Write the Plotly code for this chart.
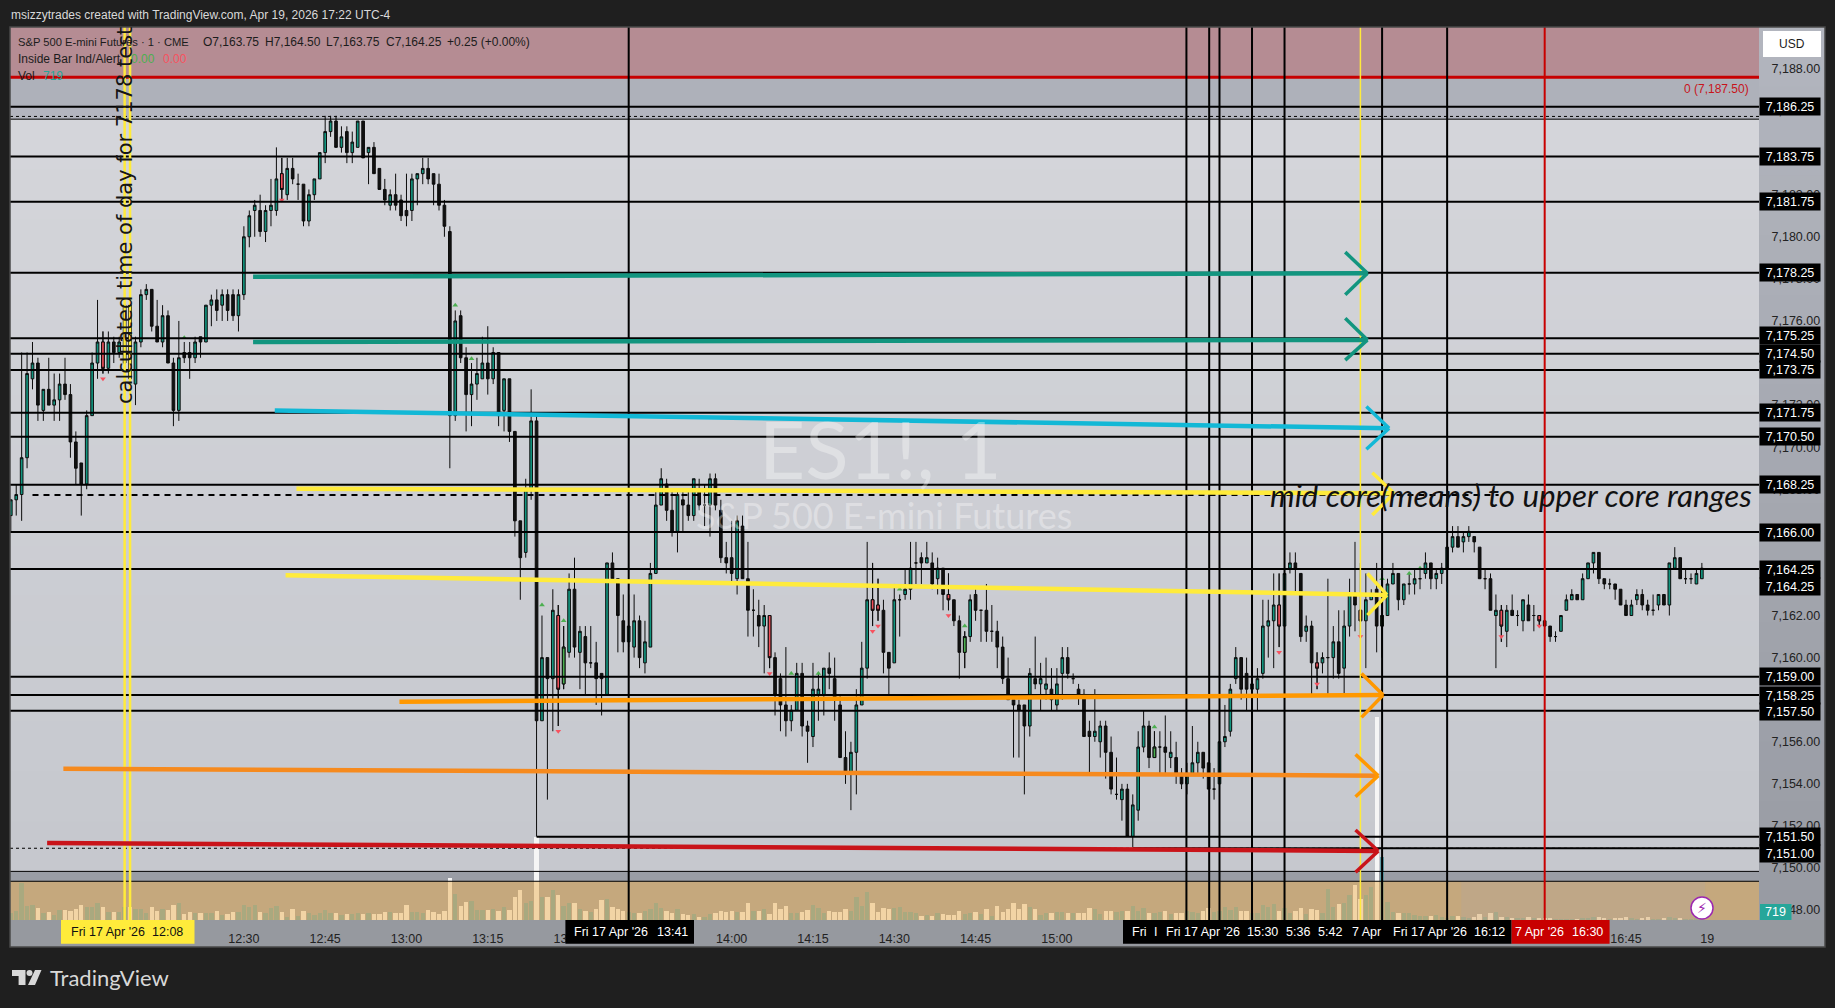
import plotly.graph_objects as go

# ---------- data ----------
BASE_PRICE = 7100
FIRST_MINUTE = 707          # minutes after midnight of the first candle (11:47)
OPEN = [66.75,67.5,67.75,69.5,73.25,74,71.75,72.75,72,72.25,
73,72.5,70.25,69.25,68.25,71.5,74,75,73.75,75,
74.5,74,76.75,73,75,77.25,77.5,75.75,75,76.25,
74,71.75,74.5,74.5,74.25,75.25,75,76.75,77,76.75,
77.25,77.25,76.25,77.25,80,81.25,81.25,80.25,81.25,81.25,
83,82,83.25,82.5,82.5,80.75,82,82.75,84,85,
85.5,84.25,85,84,84.25,85.5,84,84.25,83.25,82.25,
81.5,82,81.75,81.25,81.25,82.75,83,83.25,83,82.5,
81.5,80.25,71.5,76.25,74.25,72.5,73,73.25,74,73.25,
74.5,71.75,73.25,70.75,66.5,65,68,71.25,57,60,
59,62,58.75,60.25,63.25,60.25,61,59.75,59.75,59.25,
58.25,64.5,63.75,61.75,60.75,60.5,61.75,59.75,60.5,64,
67.25,68.25,67,66,67.5,67.25,66.75,68,67.25,67.25,
68.5,67,64.75,64.75,63.75,66.25,63.75,62.25,62,61.5,
62,60,59,57.75,57,57.5,59.25,56.75,56.25,58.25,
58.25,59.5,59,57.75,55.25,54.5,55.5,57.75,59.5,62.75,
62.5,62.25,60.25,59.75,62.75,63,63.25,64.5,64.75,64.5,
64.5,63.75,64.25,63,62.75,61.75,60.25,61,63,62.25,
62.25,61.25,61.25,60.5,59,58,57.75,57.75,56.75,59,
58.75,58.5,58.5,57.75,59.25,60,59,58.5,58.25,56.5,
56.25,56,56.75,55.5,53.5,53.25,53.75,51.5,52.75,55.75,
56.75,55.25,55.75,55.75,55.25,55.25,54.5,54,54.5,55,
55.5,55,53.75,54,56,56.5,59,60,59.25,58.5,
58.5,59.25,61.5,61.75,62.5,61.5,64.25,64.5,64,61.25,
61.5,59.75,59.75,60,60,60.75,59.5,61.5,63,62.25,
61.75,62.75,63.25,61.5,62,63.5,64,62.75,63.5,63.5,
63.75,64,64.5,63.75,64,64.25,65.25,65.75,65.5,65.75,
65.75,65.25,63.75,63.75,62,62.25,61.25,62.25,62,61.75,
62.5,62,62,61.75,61.5,61,61.25,62.25,62.75,63,
62.75,63.75,64.5,65,63.75,63.5,63.5,63.25,62.5,62,
62.75,63,62.5,62.25,62.5,63,62.5,64.25,64.75,63.75,
63.75,63.5,63.75]
HIGH = [67.5,68.25,74.5,74.5,75,74.25,72.75,74.25,73.5,73.5,
74.25,73,70.75,69.25,71.75,74.5,77,75.5,75.5,75.25,
75.25,76.75,76.75,75.25,77.5,77.75,77.5,77,76.75,76.5,
74.25,76,75,75,75.25,75.25,76.75,77.25,77.5,77.5,
77.5,77.5,77.5,80.5,81.25,81.75,82,81.5,82.75,84.25,
83.75,83.75,83.75,83,82.5,82.25,82.75,84,85.75,85.75,
85.75,85.25,85.25,85,85.5,85.5,84.25,84.5,83.25,82.75,
82.25,83,82,83,83,83,83.75,83.75,83,83,
81.75,80.5,76.5,76.5,74.75,74,74.25,75.25,75.75,74.75,
74.5,73.25,73.25,70.75,66.5,68.5,72.75,71.5,62,60,
63.25,62.5,61.5,64,64.75,61.5,61.5,61.5,60.75,59.25,
64.5,65,63.75,63,63,63,62,61.75,64.5,68,
69,68.5,68,68,68,68,68.5,68.5,68.25,68.75,
68.75,67.5,65.5,66.5,66.75,66.75,65.5,63.25,62.75,62.5,
62,60.25,59.25,60.5,57.75,59.75,59.75,57,59.75,59.25,
59.5,60.25,60,58.25,56.5,56,58.5,60.75,65.5,64.5,
63.75,62.75,60.25,63.5,63,64.25,65.5,65.5,65,65.5,
65,64.75,64.25,64,62.75,62,61.25,63,63.25,62.25,
63.5,62.5,61.75,61,60,58,58,57.75,59.5,61,
59.75,60,59.5,59.5,60.5,60.5,59.25,58.75,58.5,57,
58.5,57,57,56.25,55.25,54,54,53.5,56.5,57.5,
57,56.5,56.5,57.25,56.5,56,54.75,55,56.75,56,
55.5,55,54.75,57.5,57.75,58.75,60.5,60,60,59,
59.5,62.75,62.75,64,64,64.5,65,65,64,62,
61.75,60.25,60.25,63.75,61.5,62.25,62.25,63.75,65.5,64.5,
64,63.25,64.5,64,63.75,64.5,64,63.5,64,64.25,
64.25,65,64.5,64.25,64.5,65.25,66.25,66.25,66,66.25,
65.75,65.25,64.25,64,63,62.5,62.5,63,62.25,62.75,
63,62.5,62,61.75,61.5,61.25,62,63,63.25,63,
64,64.5,65,65,63.75,63.75,63.5,63.25,62.75,62.75,
63.25,63.25,62.75,63,63,63,64.5,65.25,64.75,64.25,
64,64.25,64.5]
LOW = [66,66.75,66.5,69,72.75,71.25,71.25,72,71.25,71.25,
72.25,69.5,68.25,66.75,68,71.5,73.25,73.5,73.5,74,
74.25,73.75,72.25,72,74.75,77,75.5,75,74.75,74,
71,71.25,74,73.25,74,74.25,75,75.75,76,76,
76,76,75.5,77,79.5,80,80,79.75,80.5,81,
81.75,81.75,82.5,81.75,80.5,80.5,81.75,82.75,83.5,84.75,
84.25,84,83.5,83.5,84.25,83.75,82.5,83,82.25,81.5,
81.25,81.25,80.75,80.5,80.75,81.5,82.5,82.5,81.5,81.25,
80,69,71.25,74,70.75,71,72.25,73.25,72.5,73,
71,70.75,70.25,65.75,62.75,64.75,67.5,51.5,57,53.25,
56.5,56.75,58.5,60,60,58.5,58.25,59.5,57.75,57.25,
58.25,63.75,60.25,60.25,60.5,60,59.5,59.25,60.5,64,
67.25,66.5,65.75,65,66,66.5,66.5,67,66.25,65.75,
67,64.5,64,63.5,63,63.75,61,61,60.5,59.25,
59.5,57.25,56.5,56.25,56.5,57.5,56.25,55,55.75,57,
57.25,58.5,57,55.25,54,52.75,53.5,57.75,59,61.5,
61.75,59.25,58.25,59.75,61,62.75,62.75,63.5,63.5,64.5,
63.25,63,62.25,62.25,61.5,59,59.5,60.75,61.75,60.75,
60.75,60.75,59.5,58.75,58,55.25,55.25,53.5,56.25,58.5,
57.5,58,57.5,57.5,58,59,58.75,57.75,56.25,54.5,
56,55.25,54.25,53.5,53.25,52.25,51.5,51,52.25,55.5,
54.75,55.25,54.5,54.5,54.75,54,53.75,53.5,54.5,54.5,
54.25,53.75,53.25,54,55.75,56.25,58.75,58,57.5,57.5,
57.5,59,60,59.5,60.5,61.25,64,63,60.75,60.75,
58.25,58.5,59.25,58.25,59,59,58.25,61,61.25,61,
59.5,62.75,60.25,60,62,63.5,62.25,62.5,63,63,
63.25,63.75,63.25,63.25,63.5,64.25,65,65.25,65,65.5,
65,63.75,63.25,62.25,59.5,60.75,60.5,62,61.5,61.25,
61.75,61.25,61.5,61.5,60.75,60.75,61.25,62.25,62.75,62.75,
62.75,63.75,64,63.5,63.25,63.25,62.75,62.5,62,62,
62.5,62.25,62,62,62.25,62.5,62,64.25,63.75,63.5,
63.5,63.5,63.75]
CLOSE = [67.5,67.75,69.5,73.5,74,72,72.75,72,72.25,73,
72.5,70.25,69,68.25,71.5,74,75,73.75,75,74.5,
75,76.75,73.25,75,77.25,77.5,75.75,75,76.25,74,
71.75,74.25,74.25,74.25,75,75,76.75,77,76.5,77.25,
76.5,76.25,77.25,80,81,81.5,80.25,81.25,81.5,82.75,
82.25,83.25,82.75,82.5,80.75,82,82.75,84,85,85.5,
84.25,84.75,84,84.5,85.5,83.75,84.25,83,82.25,81.75,
82,81.5,81,81,82.75,83,83.25,82.75,82.5,81.5,
80.5,71.5,76,74.25,72.5,73,73.5,74,73.25,74.5,
71.5,73.25,70.75,66.5,64.75,68,71.25,57,60,59,
62.25,58.5,60.5,63.25,60.5,61.25,59.75,59.75,59,59,
64.5,63.75,62,60.75,61.5,61.75,60,60.75,64,67.25,
68.5,67,66,67.75,67.25,66.75,68.5,67.25,67.25,68.5,
67.25,64.75,64.5,64,66.5,63.75,62.25,62.25,61.5,62,
60,58.25,57.75,57,57.5,59.25,56.75,56.5,58.5,58.5,
59.5,59.25,58,55.25,54.5,55.5,57.75,59.5,62.75,62.25,
62.25,60.25,59.5,62.75,62.75,63.25,64.25,64.5,64.5,64.75,
63.5,64.25,63,62.75,61.75,60.25,61,62.75,62.25,62.25,
61.25,61.25,60.5,59,58,57.75,57.5,56.75,59.25,58.75,
59,58.75,58,58.75,60,59.25,59,58.25,56.25,56.25,
56.5,56.75,55.5,53.75,53.5,53.75,51.5,53,55.75,56.75,
55.25,55.75,55.75,55.5,55.5,54.5,54,54.5,55,55.5,
54.75,53.75,53.75,56,56.25,58.5,60,58.5,58.5,58.75,
59,61.5,61.75,62.5,61.5,64,64.5,64.25,61,61.5,
59.75,59.5,60,60,60.75,59.25,61.5,63,62.5,61.75,
62.75,63,61.5,62,63.5,64,62.75,63.5,63.5,63.75,
63.75,64.5,63.75,64,64.25,65.25,65.75,65.25,65.75,66,
65.5,63.75,63.75,62.25,62.25,61.5,62.25,62,62,62.75,
61.75,62,61.75,61.5,61,61,62,62.75,63,62.75,
63.75,64.5,65,63.75,63.5,63.5,63.25,62.5,62,62.5,
63,62.5,62.25,62.25,63,62.5,64.5,64.75,63.75,63.75,
63.75,64,64.25]
VOLUME = [22,27,110,43,44,37,22,25,15,30,
30,27,33,45,38,38,50,38,25,25,
25,38,40,33,33,22,38,28,33,30,
45,50,18,23,20,20,20,22,27,15,
18,23,23,45,40,45,23,20,35,43,
23,10,33,12,27,20,15,20,30,20,
20,15,17,18,20,17,20,18,18,23,
23,20,22,45,23,23,20,30,23,18,
27,125,78,42,55,57,30,30,30,33,
27,38,30,70,90,50,57,250,70,70,
90,75,42,52,50,33,27,23,33,60,
62,38,33,27,25,20,20,27,33,50,
35,27,22,33,17,15,18,10,10,18,
20,27,25,27,25,23,50,28,27,33,
18,50,33,43,22,20,25,30,45,35,
20,27,25,25,33,28,68,42,85,50,
25,35,33,35,38,23,23,20,13,15,
13,20,17,15,15,27,18,20,23,17,
33,12,42,25,33,50,33,47,38,33,
15,20,20,23,23,20,20,20,20,35,
33,17,27,28,25,27,27,42,28,35,
20,20,25,27,18,20,20,27,25,20,
27,35,23,27,40,30,38,27,27,20,
20,45,38,48,27,35,20,27,35,18,
32,30,20,92,40,48,50,75,105,62,
75,98,610,190,55,25,20,20,22,15,
12,13,12,15,10,5,12,13,8,5,
8,17,8,20,25,8,10,5,5,5,
8,5,5,5,5,4,4,4,4,4,
5,5,8,8,5,4,5,6,10,5,
4,6,8,4,4,5,8,5,5,3,
4,5,5]
assert len(OPEN) == len(HIGH) == len(LOW) == len(CLOSE) == len(VOLUME) == 313, (len(OPEN), len(HIGH), len(LOW), len(CLOSE), len(VOLUME))

RED_BARS = [724,757,808,847,866,867,880,941,948,956,982,989]
GREEN_BARS = [809,883,918,960]
ARROW_DOWN_MIN = [724,757,808,847,866,867,880,941,948,956,982,989]
ARROW_DOWN_PRICE = [7173.25,7181.75,7156.5,7159.25,7161.25,7161.5,7162,7160.25,7158.75,7161,7161,7161.5]
ARROW_UP_MIN = [739,789,792,796,805,809,851,856,871,883,918,960,965,967]
ARROW_UP_PRICE = [7175.2,7176.75,7174.2,7175,7162.5,7161.75,7159.25,7159.25,7163.25,7161.5,7156.7,7163.75,7164,7164.25]

PRICE_TICKS = [7188,7186,7184,7182,7180,7178,7176,7174,7172,7170,7168,7166,7164,7162,7160,7158,7156,7154,7152,7150,7148]
TIME_TICKS = [750,765,780,795,810,840,855,870,885,900,1005,1020]
TIME_LABELS = ["12:30","12:45","13:00","13:15","13:30","14:00","14:15","14:30","14:45","15:00","16:45","19"]

LEVELS = [7186.18,7183.81,7181.67,7178.29,7175.18,7174.44,7173.67,7171.64,7170.5,7168.22,7165.97,7164.21,7159.09,7158.22,7157.48]
V_LINES = [821,923.9,928.1,930,936,942,960,972]
YELLOW_V = [728,729]
YELLOW_THIN_V = 956
RED_V = 990

TAG_TEXT = ["7,186.25","7,183.75","7,181.75","7,178.25","7,175.25","7,174.50","7,173.75","7,171.75","7,170.50","7,168.25","7,166.00","7,164.25","7,164.25","7,159.00","7,158.25","7,157.50","7,151.50","7,151.00"]
TAG_PRICE = [7186.18,7183.81,7181.67,7178.29,7175.18,7174.44,7173.67,7171.64,7170.5,7168.22,7165.97,7164.21,7164.21,7159.09,7158.22,7157.48,7151.49,7150.94]
TAG_SHIFT = [0,0,0,0,3,0,0,0,0,0,0,0,-17,0,0,-1,0,-5]

TREND_COLOR = ["#12957f","#12957f","#12b8d6","#ffeb3b","#ffeb3b","#ff9800","#f68a1e","#c9141a"]
HEAD_COLOR = ["#12957f","#12957f","#12b8d6","#ffeb3b","#ffeb3b","#ff9800","#ff9800","#c9141a"]
TREND_START_MIN = [751.7,751.7,755.7,759.7,757.7,778.7,716.7,713.7]
TREND_START_PRICE = [7178.1,7175.0,7171.74,7168.03,7163.91,7157.9,7154.72,7151.19]
TREND_END_MIN = [957.3,957.3,961.3,962.2,960.9,960.2,959.3,959.3]
TREND_END_PRICE = [7178.27,7175.1,7170.9,7167.81,7162.98,7158.22,7154.39,7150.81]
HEAD_BACK_MIN = [953.2,953.2,957.1,958.2,957.3,956.2,955.1,955.1]
HEAD_HIGH_PRICE = [7179.27,7176.13,7171.93,7168.79,7164,7159.25,7155.4,7151.81]
HEAD_LOW_PRICE = [7177.24,7174.14,7169.9,7166.78,7162.02,7157.16,7153.39,7149.8]

# ---------- page geometry ----------
W, H = 1835, 1008
PL, PR, PT, PB = 10, 1759, 27, 920
X_RANGE = [706.85, 1029.54]
Y_RANGE = [7147.53, 7189.97]
FONT = "Liberation Sans"
px = lambda x: x / W
py = lambda y: 1 - y / H

minutes = [FIRST_MINUTE + i for i in range(len(OPEN))]
o = [BASE_PRICE + v for v in OPEN]
h = [BASE_PRICE + v for v in HIGH]
l = [BASE_PRICE + v for v in LOW]
c = [BASE_PRICE + v for v in CLOSE]

fig = go.Figure()

# volume first, drawn through its own overlaid axis
fig.add_trace(go.Bar(x=minutes, y=VOLUME, yaxis="y2", width=0.8, hoverinfo="skip", showlegend=False,
                     marker=dict(line=dict(width=0),
                                 color=["#629fa9" if cc >= oo else "#f5f5f5" for oo, cc in zip(o, c)])))

def candles(idx, up, down):
    fig.add_trace(go.Candlestick(
        x=[minutes[i] for i in idx], open=[o[i] for i in idx], high=[h[i] for i in idx],
        low=[l[i] for i in idx], close=[c[i] for i in idx], hoverinfo="skip", showlegend=False,
        increasing=dict(fillcolor=up, line=dict(color="#0c0c0c", width=1)),
        decreasing=dict(fillcolor=down, line=dict(color="#0c0c0c", width=1))))

candles(range(len(o)), "#12957f", "#111111")
candles([m - FIRST_MINUTE for m in RED_BARS], "#f0505a", "#f0505a")
candles([m - FIRST_MINUTE for m in GREEN_BARS], "#4caf50", "#4caf50")

fig.add_trace(go.Scatter(x=ARROW_DOWN_MIN, y=ARROW_DOWN_PRICE, mode="markers", hoverinfo="skip", showlegend=False,
                         marker=dict(symbol="triangle-down", size=5, color="#f7525f")))
fig.add_trace(go.Scatter(x=ARROW_UP_MIN, y=ARROW_UP_PRICE, mode="markers", hoverinfo="skip", showlegend=False,
                         marker=dict(symbol="triangle-up", size=5, color="#4caf50")))

shapes = []
def rect_px(x0, y0, x1, y1, color, layer="below", line=None):
    shapes.append(dict(type="rect", xref="paper", yref="paper", x0=px(x0), x1=px(x1), y0=py(y0), y1=py(y1),
                       fillcolor=color, line=line or dict(width=0), layer=layer))

def mix(a, b, t):
    return "rgb(%d,%d,%d)" % tuple(round(a[i] + (b[i] - a[i]) * t) for i in range(3))

# right price scale and time scale backgrounds
N = 30
for i in range(N):
    y0 = PT + (PB - PT) * i / N
    y1 = PT + (PB - PT) * (i + 1) / N + 1
    rect_px(PR, y0, 1825, y1, mix((178, 181, 190), (152, 155, 163), i / (N - 1)))
rect_px(PL, PB, 1825, 947, "#96999f")

# pane gradient and zones
ZONE_TOP = 7185.59
ZONE_BOTTOM = 7149.84
TAN_TOP = 7149.37
for i in range(N):
    p1 = ZONE_TOP + (ZONE_BOTTOM - ZONE_TOP) * i / N
    p0 = ZONE_TOP + (ZONE_BOTTOM - ZONE_TOP) * (i + 1) / N - 0.05
    shapes.append(dict(type="rect", xref="x", yref="y", x0=X_RANGE[0], x1=X_RANGE[1], y0=p0, y1=p1,
                       fillcolor=mix((212, 213, 218), (198, 200, 206), i / (N - 1)), line=dict(width=0), layer="below"))
def band(p0, p1, color, layer="below"):
    shapes.append(dict(type="rect", xref="x", yref="y", x0=X_RANGE[0], x1=X_RANGE[1], y0=p0, y1=p1,
                       fillcolor=color, line=dict(width=0), layer=layer))
band(7187.58, Y_RANGE[1], "#b58c93")
band(7186.18, 7187.58, "#aeb1ba")
band(ZONE_TOP, 7186.18, "#b3b5bf")
band(Y_RANGE[0], ZONE_BOTTOM, "#9a9da5")
shapes.append(dict(type="rect", xref="x", yref="paper", x0=974.6, x1=1019.6, y0=py(PB), y1=py(PT),
                   fillcolor="rgba(150,170,225,0.2)", line=dict(width=0), layer="below"))
# translucent tan over the volume bars
band(Y_RANGE[0], TAN_TOP, "rgba(240,179,85,0.5)", "above")
shapes.append(dict(type="rect", xref="x", yref="y", x0=974.6, x1=1019.6, y0=Y_RANGE[0], y1=TAN_TOP,
                   fillcolor="rgba(150,170,225,0.10)", line=dict(width=0), layer="above"))

def hline(p, x0=None, width=2, dash="solid", color="#000000"):
    shapes.append(dict(type="line", xref="x", yref="y", x0=X_RANGE[0] if x0 is None else x0, x1=X_RANGE[1],
                       y0=p, y1=p, line=dict(color=color, width=width, dash=dash), layer="above"))
for p in LEVELS:
    hline(p)
hline(7151.49, x0=804)
hline(7150.94, width=1, dash="dot")
hline(7150.94, x0=914)
hline(7185.72, width=1, dash="dot")
hline(ZONE_TOP, width=1)
hline(ZONE_BOTTOM, width=1)
hline(TAN_TOP, width=1)
hline(7187.58, width=3, color="#c80000")
shapes.append(dict(type="line", xref="x", yref="y", x0=711, x1=981.5, y0=7167.73, y1=7167.73,
                   line=dict(color="#000000", width=2, dash="6px,5px"), layer="above"))

def vline(m, color="#000000", width=2):
    shapes.append(dict(type="line", xref="x", yref="paper", x0=m, x1=m, y0=py(PB), y1=py(PT),
                       line=dict(color=color, width=width), layer="above"))
for m in V_LINES:
    vline(m)
for m in YELLOW_V:
    vline(m, "#ffeb3b", 2.5)
vline(YELLOW_THIN_V, "#ffeb3b", 1.5)
vline(RED_V, "#c80000", 2)

for i in range(len(TREND_COLOR)):
    shapes.append(dict(type="line", xref="x", yref="y", x0=TREND_START_MIN[i], x1=TREND_END_MIN[i],
                       y0=TREND_START_PRICE[i], y1=TREND_END_PRICE[i],
                       line=dict(color=TREND_COLOR[i], width=4.5), layer="above"))
    for hp in (HEAD_HIGH_PRICE[i], HEAD_LOW_PRICE[i]):
        shapes.append(dict(type="line", xref="x", yref="y", x0=HEAD_BACK_MIN[i], x1=TREND_END_MIN[i],
                           y0=hp, y1=TREND_END_PRICE[i],
                           line=dict(color=HEAD_COLOR[i], width=3.5), layer="above"))

# time-scale highlight boxes
rect_px(61, PB, 194.5, 943.7, "#ffeb3b", "above")
rect_px(565.4, PB, 694, 943.7, "#000000", "above")
rect_px(1123, PB, 1511.6, 943.7, "#000000", "above")
rect_px(1511.6, PB, 1609.6, 943.7, "#c80000", "above")
# USD button, last-volume tag
shapes.append(dict(type="path", xref="paper", yref="paper", layer="above", fillcolor="#ffffff", line=dict(width=0),
                   path="M %f %f L %f %f L %f %f L %f %f Z" % (px(1763), py(31), px(1821), py(31), px(1821), py(57), px(1763), py(57))))
rect_px(1760, 904, 1791.5, PB, "#26a69a", "above")
# lightning badge
shapes.append(dict(type="circle", xref="paper", yref="paper", x0=px(1691), x1=px(1713), y0=py(897), y1=py(919),
                   fillcolor="#ffffff", line=dict(color="#9c27b0", width=1.5), layer="above"))
# frame
shapes.append(dict(type="rect", xref="paper", yref="paper", x0=px(PL), x1=px(1825), y0=py(947), y1=py(PT),
                   line=dict(color="#4a4a4a", width=1.5), layer="above"))
# TradingView logo
LOGO = "#d8d8d8"
shapes.append(dict(type="path", xref="paper", yref="paper", fillcolor=LOGO, line=dict(width=0), layer="above",
                   path="M %f %f L %f %f L %f %f L %f %f L %f %f L %f %f Z" % (
                       px(12), py(970), px(25.5), py(970), px(25.5), py(985), px(18.6), py(985), px(18.6), py(976), px(12), py(976))))
shapes.append(dict(type="circle", xref="paper", yref="paper", x0=px(26.5), x1=px(32.5), y0=py(976), y1=py(970),
                   fillcolor=LOGO, line=dict(width=0), layer="above"))
shapes.append(dict(type="path", xref="paper", yref="paper", fillcolor=LOGO, line=dict(width=0), layer="above",
                   path="M %f %f L %f %f L %f %f L %f %f Z" % (px(35), py(970), px(41.5), py(970), px(35), py(985), px(28), py(985))))

ann = []
def text(x, y, s, size=12, color="#1c1c1c", anchor="left", family=FONT, **kw):
    ann.append(dict(xref="paper", yref="paper", x=px(x), y=py(y), text=s, showarrow=False, xanchor=anchor, yanchor="middle",
                    font=dict(size=size, color=color, family=family), **kw))

text(9, 15, "msizzytrades created with TradingView.com, Apr 19, 2026 17:22 UTC-4", 12, "#d9d9d9")
text(16, 41.7, "S&P 500 E-mini Futures · 1 · CME", 11.2)
text(201, 41.7, "O7,163.75", 12)
text(263, 41.7, "H7,164.50", 12)
text(324, 41.7, "L7,163.75", 12)
text(384, 41.7, "C7,164.25", 12)
text(445, 41.7, "+0.25 (+0.00%)", 12)
text(16, 58.7, "Inside Bar Ind/Alert", 12)
text(129, 58.7, "0.00", 12, "#4caf50")
text(161, 58.7, "0.00", 12, "#f7525f")
text(16, 76, "Vol", 12)
text(40.5, 76, "719", 12, "#26a69a")

text(1751, 88.7, "0 (7,187.50)", 12, "#c8141a", "right")
text(1792, 44, "USD", 12, "#1c1c1c", "center")
text(1775.7, 912, "719", 12.5, "#ffffff", "center")
text(1702, 908, "⚡", 14, "#9c27b0", "center", "DejaVu Sans")

text(880, 448, "ES1!, 1", 80, "rgba(255,255,255,0.35)", "center", "Lato")
text(884, 515, "S&P 500 E-mini Futures", 36, "rgba(255,255,255,0.35)", "center", "Lato")
text(125, 216, "calculated time of day for 7178 test", 21, "#151515", "center", "DejaVu Sans", textangle=-90)
text(1268, 495, "<i>mid core(means) to upper core ranges</i>", 31.3, "#111111", "left", "Lato")

for s, x, col in [("Fri 17 Apr '26", 68.6, "#111111"), ("12:08", 150.4, "#111111"),
                  ("Fri 17 Apr '26", 572, "#ffffff"), ("13:41", 654.6, "#ffffff"),
                  ("Fri", 1130, "#ffffff"), ("I", 1152, "#ffffff"),
                  ("Fri 17 Apr '26", 1163.5, "#ffffff"), ("15:30", 1245, "#ffffff"),
                  ("5:36", 1283.6, "#ffffff"), ("5:42", 1316.4, "#ffffff"), ("7 Apr", 1350, "#ffffff"),
                  ("Fri 17 Apr '26", 1391, "#ffffff"), ("16:12", 1472, "#ffffff"),
                  ("7 Apr '26", 1513, "#ffffff"), ("16:30", 1570, "#ffffff")]:
    text(x, 932, s, 12.5, col)

for s, p, dy in zip(TAG_TEXT, TAG_PRICE, TAG_SHIFT):
    ann.append(dict(xref="paper", yref="y", x=px(1790), y=p, yshift=dy, text=s, showarrow=False, xanchor="center", yanchor="middle",
                    width=60, height=17, bgcolor="#000000", borderpad=0, align="center", valign="middle",
                    font=dict(size=12.5, color="#ffffff", family=FONT)))

text(48, 977, "TradingView", 22, LOGO, "left", "Lato")

fig.update_layout(
    width=W, height=H, margin=dict(l=0, r=0, t=0, b=0), paper_bgcolor="#1f1f1f", plot_bgcolor="#d0d1d6",
    showlegend=False, bargap=0, dragmode=False, shapes=shapes, annotations=ann,
    font=dict(family=FONT),
    xaxis=dict(domain=[px(PL), px(PR)], range=X_RANGE, rangeslider=dict(visible=False), showgrid=False, zeroline=False,
               tickmode="array", tickvals=TIME_TICKS, ticktext=TIME_LABELS, ticks="outside", ticklen=7,
               tickcolor="rgba(0,0,0,0)", tickfont=dict(size=12.5, color="#222222", family=FONT), showline=False),
    yaxis=dict(domain=[py(PB), py(PT)], range=Y_RANGE, side="right", showgrid=False, zeroline=False, showline=False,
               tickmode="array", tickvals=PRICE_TICKS, tickformat=",.2f", ticks="outside", ticklen=9,
               tickcolor="rgba(0,0,0,0)", tickfont=dict(size=12.5, color="#222222", family=FONT)),
    yaxis2=dict(overlaying="y", range=[0, (PB - PT) * 3], visible=False),
)

fig.write_html("out.html", config=dict(displayModeBar=False, staticPlot=True),
               post_script="document.body.style.margin='0';document.body.style.overflow='hidden';")
